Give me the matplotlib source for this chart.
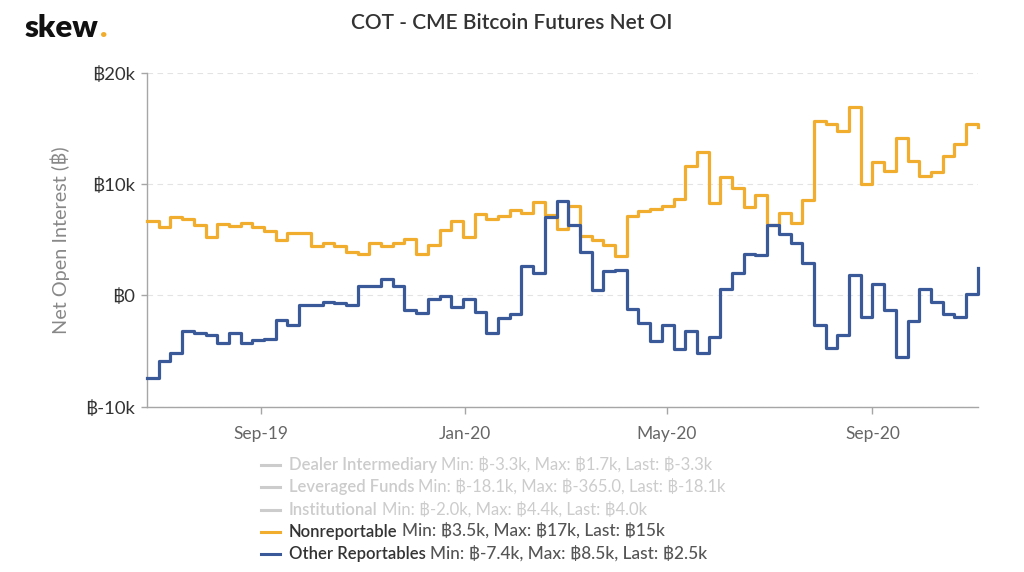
import matplotlib
matplotlib.use('Agg')
import matplotlib.pyplot as plt
import matplotlib.dates as mdates
from matplotlib.lines import Line2D
from matplotlib.ticker import FuncFormatter
import pandas as pd

plt.rcParams['font.family'] = ['Lato', 'DejaVu Sans']

# weekly COT report dates (Tuesdays)
dates = pd.date_range('2019-06-25', periods=72, freq='7D')

# net open interest, thousands of BTC
nonreportable = [
    6.7, 6.1, 7.0, 6.9, 6.3, 5.2, 6.4, 6.2, 6.5, 6.1, 5.8, 5.0,
    5.6, 5.6, 4.4, 4.7, 4.4, 3.9, 3.7, 4.7, 4.4, 4.7, 5.1, 3.7,
    4.5, 5.9, 6.7, 5.2, 7.3, 6.9, 7.1, 7.7, 7.4, 8.4, 7.2, 6.0,
    8.0, 5.3, 5.0, 4.5, 3.5, 7.1, 7.6, 7.8, 8.0, 8.7, 11.6, 12.9,
    8.3, 10.6, 9.6, 7.9, 9.0, 6.3, 7.4, 6.5, 8.6, 15.7, 15.4, 14.8,
    16.9, 10.0, 12.0, 11.2, 14.1, 12.1, 10.7, 11.1, 12.5, 13.6, 15.4, 15.1,
]
other_reportables = [
    -7.4, -5.9, -5.2, -3.2, -3.4, -3.6, -4.3, -3.4, -4.3, -4.0, -3.9, -2.2,
    -2.7, -0.9, -0.9, -0.6, -0.7, -0.9, 0.8, 0.8, 1.5, 0.8, -1.3, -1.6,
    -0.3, -0.1, -1.0, -0.3, -1.5, -3.4, -2.0, -1.7, 2.6, 2.0, 7.0, 8.5,
    6.3, 3.9, 0.5, 2.2, 2.3, -1.2, -2.5, -4.1, -2.7, -4.8, -3.2, -5.2,
    -3.7, 0.6, 2.0, 3.7, 3.6, 6.3, 5.5, 4.7, 2.9, -2.7, -4.7, -3.6,
    1.8, -1.9, 1.0, -1.3, -5.5, -2.3, 0.6, -0.6, -1.7, -1.9, 0.1, 2.5,
]

y_ticks = [-10, 0, 10, 20]

legend_names = ['Dealer Intermediary', 'Leveraged Funds', 'Institutional',
                'Nonreportable', 'Other Reportables']
legend_stats = [
    'Min: ฿-3.3k, Max: ฿1.7k, Last: ฿-3.3k',
    'Min: ฿-18.1k, Max: ฿-365.0, Last: ฿-18.1k',
    'Min: ฿-2.0k, Max: ฿4.4k, Last: ฿4.0k',
    'Min: ฿3.5k, Max: ฿17k, Last: ฿15k',
    'Min: ฿-7.4k, Max: ฿8.5k, Last: ฿2.5k',
]
legend_active = [False, False, False, True, True]

ORANGE = '#f0ad2e'
BLUE = '#3a5998'
GREY_OFF = '#cccccc'

W, H = 1024, 572
fig = plt.figure(figsize=(W / 100, H / 100), dpi=100)
ax = fig.add_axes([147 / W, 1 - 406.7 / H, (977.7 - 147) / W, (406.7 - 72.7) / H])

ax.step(dates, nonreportable, where='post', color=ORANGE, lw=2.3, zorder=3, clip_on=False)
ax.step(dates, other_reportables, where='post', color=BLUE, lw=2.3, zorder=3, clip_on=False)

ax.set_xlim(dates[0], dates[-1])
ax.set_ylim(y_ticks[0], y_ticks[-1])
ax.set_yticks(y_ticks)
ax.yaxis.set_major_formatter(FuncFormatter(lambda v, p: '฿0' if v == 0 else f'฿{v:.0f}k'))
ax.xaxis.set_major_locator(mdates.MonthLocator(bymonth=[1, 5, 9]))
ax.xaxis.set_major_formatter(mdates.DateFormatter('%b-%y'))

ax.yaxis.grid(True, color='#e3e3e3', lw=0.8, dashes=(5, 4))
ax.set_axisbelow(True)
for s in ['top', 'right']:
    ax.spines[s].set_visible(False)
for s in ['left', 'bottom']:
    ax.spines[s].set_color('#a6a6a6')
    ax.spines[s].set_linewidth(1)

ax.tick_params(axis='y', length=4, width=1, color='#a6a6a6', pad=4.5,
               labelsize=13.3, labelcolor='#333333')
ax.tick_params(axis='x', length=5, width=1, color='#a6a6a6', pad=9,
               labelsize=12.5, labelcolor='#666666')
ax.set_ylabel('Net Open Interest (฿)', fontsize=14.3, color='#888888', labelpad=11)

# logo and title
logo = fig.text(25 / W, 1 - 37 / H, 'skew', fontsize=22.5, weight='heavy',
                color='#111111', va='baseline')
fig.text(0.5, 1 - 23 / H, 'COT - CME Bitcoin Futures Net OI', ha='center',
         va='center', fontsize=15, color='#333333', weight='semibold')

# legend
handle_colors = [GREY_OFF, GREY_OFF, GREY_OFF, ORANGE, BLUE]
row_y = [465, 487.3, 510, 531.7, 554]
for name, stats, col, active, yy in zip(legend_names, legend_stats, handle_colors,
                                         legend_active, row_y):
    fy = 1 - yy / H
    fig.add_artist(Line2D([261 / W, 280 / W], [fy, fy], color=col, lw=2.2,
                          transform=fig.transFigure))
    fig.text(289 / W, fy, name, fontsize=12, va='center', weight='semibold',
             color='#333333' if active else GREY_OFF)

fig.canvas.draw()
r = fig.canvas.get_renderer()
bb = logo.get_window_extent(r)
fig.text(bb.x1 / W + 1 / W, 1 - 37 / H, '.', fontsize=22.5, weight='heavy',
         color=ORANGE, va='baseline')
for t, stats, active in zip(fig.texts[2:7], legend_stats, legend_active):
    e = t.get_window_extent(r)
    fig.text((e.x1 + 4) / W, t.get_position()[1], stats,
             fontsize=12.4 if active else 12, va='center',
             weight='medium' if active else 'normal',
             color='#555555' if active else GREY_OFF)

fig.savefig('out.png', dpi=100)
